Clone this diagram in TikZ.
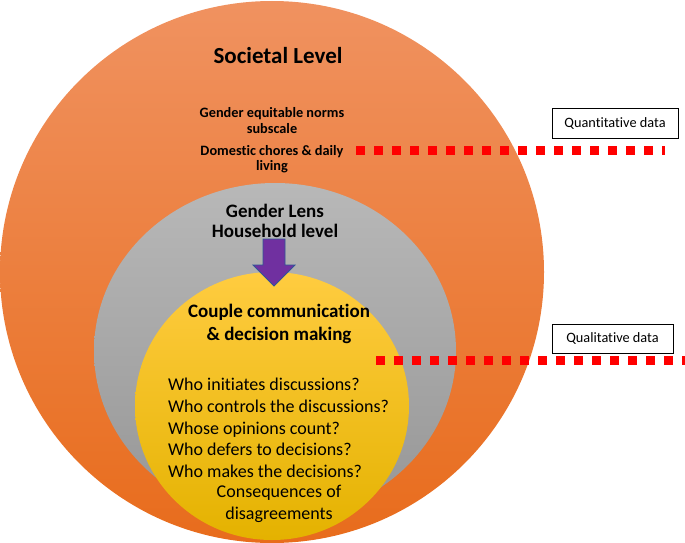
\documentclass[tikz,border=0pt]{standalone}
\usepackage{fontspec}
\setmainfont{Carlito}[RawFeature={-liga;-clig;-dlig}]
\begin{document}
\begin{tikzpicture}[x=1pt,y=-1pt,
  lbl/.style={inner sep=0pt,align=center,text=black},
  boldlbl/.style={lbl,font=\bfseries},
  databox/.style={draw=black,line width=0.8pt,fill=white,minimum height=30pt,inner sep=0pt,font=\fontsize{14.3}{16}\selectfont},
  reddots/.style={draw=red,line width=9pt,dash pattern=on 9pt off 9pt}]
\definecolor{orTop}{RGB}{240,146,96}
\definecolor{orBot}{RGB}{232,108,28}
\definecolor{grTop}{RGB}{184,184,184}
\definecolor{grBot}{RGB}{150,150,150}
\definecolor{yeTop}{RGB}{255,204,64}
\definecolor{yeBot}{RGB}{228,178,0}
\definecolor{arrFill}{RGB}{112,48,160}
\definecolor{arrLine}{RGB}{47,85,151}
\useasboundingbox (0,0) rectangle (685,543);
\begin{scope}
\clip (0,0) rectangle (685,543);
% outer ellipse
\shade[top color=orTop,bottom color=orBot] (272,272) ellipse [x radius=272,y radius=271];
% gray ellipse
\shade[top color=grTop,bottom color=grBot] (275,351) ellipse [x radius=181,y radius=168];
% yellow ellipse
\shade[top color=yeTop,bottom color=yeBot] (272,406) ellipse [x radius=137,y radius=134];
\end{scope}
% arrow
\filldraw[fill=arrFill,draw=arrLine,line width=0.8pt]
  (263,239) -- (285,239) -- (285,265) -- (295,265) -- (274,286) -- (253,265) -- (263,265) -- cycle;
% texts
\node[boldlbl,font=\bfseries\fontsize{23}{26}\selectfont] (soc) at (278,56) {Societal Level};
\node[boldlbl,font=\bfseries\fontsize{14.3}{16}\selectfont] (gen) at (272,121) {Gender equitable norms\\subscale};
\node[boldlbl,font=\bfseries\fontsize{14.3}{15.5}\selectfont] (dom) at (272,159) {Domestic chores \& daily\\living};
\node[boldlbl,font=\bfseries\fontsize{19}{20}\selectfont] (lens) at (275,221) {Gender Lens\\Household level};
\node[boldlbl,font=\bfseries\fontsize{19}{23.5}\selectfont] (cpl) at (279,324) {Couple communication\\\& decision making};
\node[lbl,align=left,anchor=west,font=\fontsize{18}{21.75}\selectfont] (qs) at (168,428) {Who initiates discussions?\\Who controls the discussions?\\Whose opinions count?\\Who defers to decisions?\\Who makes the decisions?};
\node[lbl,font=\fontsize{18}{22}\selectfont] (cons) at (279,504) {Consequences of\\disagreements};
% data boxes
\node[databox,minimum width=126pt] (quant) at (615,123) {Quantitative data};
\node[databox,minimum width=121pt,minimum height=29pt] (qual) at (612.5,338.5) {Qualitative data};
% dotted connectors
\coordinate (q1s) at (356,150.5);
\coordinate (q1e) at (665,150.5);
\coordinate (q2s) at (376,360);
\coordinate (q2e) at (685,360);
\draw[reddots] (q1s) -- (q1e);
\draw[reddots] (q2s) -- (q2e);
\end{tikzpicture}
\end{document}
